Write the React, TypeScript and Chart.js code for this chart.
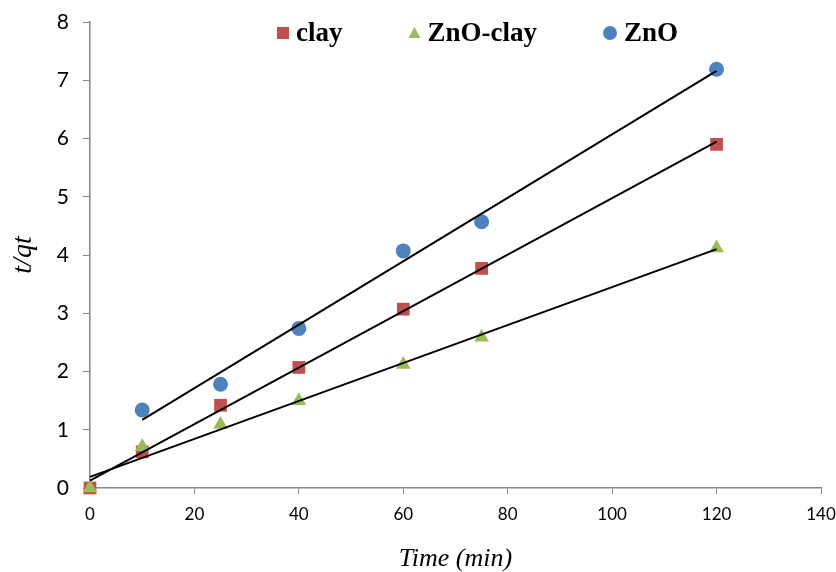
import React, { useEffect, useRef } from "react";
import { Chart, registerables } from "chart.js";

Chart.register(...registerables);

const xTicks = [0, 20, 40, 60, 80, 100, 120, 140];
const yTicks = [0, 1, 2, 3, 4, 5, 6, 7, 8];

const clayX = [0, 10, 25, 40, 60, 75, 120];
const clayY = [0, 0.62, 1.42, 2.07, 3.07, 3.77, 5.9];

const znoClayX = [0, 10, 25, 40, 60, 75, 120];
const znoClayY = [0, 0.71, 1.09, 1.5, 2.12, 2.59, 4.12];

const znoX = [10, 25, 40, 60, 75, 120];
const znoY = [1.34, 1.78, 2.74, 4.07, 4.57, 7.19];

// linear trend line end points
const clayFitX = [0, 120];
const clayFitY = [0.125, 5.945];
const znoClayFitX = [0, 120];
const znoClayFitY = [0.19, 4.1];
const znoFitX = [10, 120];
const znoFitY = [1.17, 7.16];

const RED = "#C0504D";
const GREEN = "#9BBB59";
const BLUE = "#4F81BD";
const AXIS = "#868686";

const legendItems = [
  { label: "clay", color: RED, style: "rect" },
  { label: "ZnO-clay", color: GREEN, style: "triangle" },
  { label: "ZnO", color: BLUE, style: "circle" },
];

const pts = (xs: number[], ys: number[]) => xs.map((x, i) => ({ x, y: ys[i] }));

const legendPlugin = {
  id: "customLegend",
  afterDraw(chart: any) {
    const { ctx, chartArea } = chart;
    ctx.save();
    ctx.font = "bold 27px 'Liberation Serif', 'Times New Roman', serif";
    ctx.textBaseline = "middle";
    ctx.textAlign = "left";
    const markerToText = 7;
    const itemGap = 66;
    let x = chartArea.left + 187;
    const y = chartArea.top + 11;
    legendItems.forEach((it) => {
      const mw = it.style === "circle" ? 14 : 12;
      const mx = x + mw / 2;
      ctx.fillStyle = it.color;
      ctx.beginPath();
      if (it.style === "rect") {
        ctx.rect(mx - 6, y - 6, 12, 12);
      } else if (it.style === "triangle") {
        ctx.moveTo(mx, y - 6);
        ctx.lineTo(mx + 6, y + 5);
        ctx.lineTo(mx - 6, y + 5);
        ctx.closePath();
      } else {
        ctx.arc(mx, y, 7, 0, Math.PI * 2);
      }
      ctx.fill();
      ctx.fillStyle = "#000";
      const tx = x + mw + markerToText;
      ctx.fillText(it.label, tx, y + 1);
      x = tx + ctx.measureText(it.label).width + itemGap;
    });
    ctx.restore();
  },
};

export default function App() {
  const ref = useRef<HTMLCanvasElement | null>(null);

  useEffect(() => {
    if (!ref.current) return;
    const markerBase = {
      type: "scatter" as const,
      showLine: false,
      clip: false as any,
      pointBorderWidth: 0,
    };
    const fitBase = {
      type: "scatter" as const,
      showLine: true,
      borderColor: "#000",
      borderWidth: 2,
      pointRadius: 0,
      pointHoverRadius: 0,
      clip: false as any,
      order: 1,
    };
    const chart = new Chart(ref.current, {
      type: "scatter",
      data: {
        datasets: [
          {
            ...markerBase,
            label: "clay",
            order: 4,
            data: pts(clayX, clayY),
            pointStyle: "rect",
            pointRadius: 9,
            backgroundColor: RED,
            borderColor: RED,
          },
          {
            ...markerBase,
            label: "ZnO-clay",
            order: 3,
            data: pts(znoClayX, znoClayY),
            pointStyle: "triangle",
            pointRadius: 8.5,
            backgroundColor: GREEN,
            borderColor: GREEN,
          },
          {
            ...markerBase,
            label: "ZnO",
            order: 2,
            data: pts(znoX, znoY),
            pointStyle: "circle",
            pointRadius: 7.5,
            backgroundColor: BLUE,
            borderColor: BLUE,
          },
          { ...fitBase, label: "fit clay", data: pts(clayFitX, clayFitY) },
          { ...fitBase, label: "fit ZnO-clay", data: pts(znoClayFitX, znoClayFitY) },
          { ...fitBase, label: "fit ZnO", data: pts(znoFitX, znoFitY) },
        ] as any,
      },
      options: {
        animation: false,
        responsive: false,
        maintainAspectRatio: false,
        layout: { padding: { top: 22, right: 15, left: 0, bottom: 0 } },
        plugins: {
          legend: { display: false },
          tooltip: { enabled: false },
        },
        scales: {
          x: {
            type: "linear",
            min: xTicks[0],
            max: xTicks[xTicks.length - 1],
            afterBuildTicks: (s: any) => {
              s.ticks = xTicks.map((v) => ({ value: v }));
            },
            afterFit: (s: any) => {
              s.height = 84;
              s.paddingLeft = 0;
              s.paddingRight = 0;
            },
            grid: {
              drawOnChartArea: false,
              drawTicks: true,
              tickLength: 6,
              color: AXIS,
              lineWidth: 1,
            },
            border: { display: true, color: AXIS, width: 1.5 },
            ticks: {
              color: "#000",
              padding: 10,
              maxRotation: 0,
              font: { family: "Lato, 'Open Sans', sans-serif", size: 17 },
            },
            title: {
              display: true,
              text: "Time (min)",
              color: "#000",
              padding: { top: 0, bottom: 0 },
              font: { family: "'Liberation Serif', 'Times New Roman', serif", size: 26, style: "italic", lineHeight: 1 },
            },
          },
          y: {
            type: "linear",
            min: yTicks[0],
            max: yTicks[yTicks.length - 1],
            afterBuildTicks: (s: any) => {
              s.ticks = yTicks.map((v) => ({ value: v }));
            },
            afterFit: (s: any) => {
              s.width = 90;
              s.paddingTop = 0;
              s.paddingBottom = 0;
            },
            grid: {
              drawOnChartArea: false,
              drawTicks: true,
              tickLength: 7,
              color: AXIS,
              lineWidth: 1,
            },
            border: { display: true, color: AXIS, width: 1.5 },
            ticks: {
              color: "#000",
              padding: 14,
              font: { family: "Lato, 'Open Sans', sans-serif", size: 21 },
            },
            title: {
              display: true,
              text: "t/qt",
              color: "#000",
              padding: { top: 10, bottom: 0 },
              font: { family: "'Liberation Serif', 'Times New Roman', serif", size: 28, style: "italic", lineHeight: 1 },
            },
          },
        },
      },
      plugins: [legendPlugin],
    } as any);
    return () => chart.destroy();
  }, []);

  return (
    <div style={{ position: "fixed", left: 0, top: 0, width: 836, height: 572, background: "#fff" }}>
      <canvas ref={ref} width={836} height={572} style={{ width: 836, height: 572, display: "block" }} />
    </div>
  );
}
